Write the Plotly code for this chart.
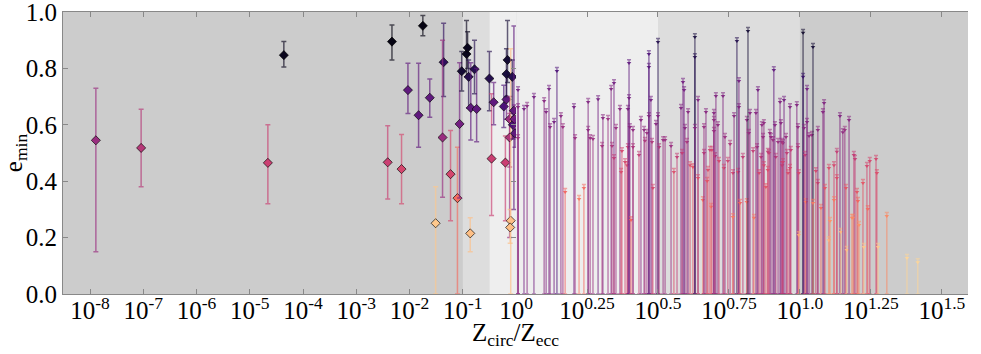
import plotly.graph_objects as go
from plotly.colors import sample_colorscale, unlabel_rgb

# left panel (Z_circ/Z_ecc < 1): log10 ratio, e_min, upper/lower limits, colour value
l_logz = [-7.89, -7.04, -4.66, -4.36, -2.33, -1.75, -2.03, -1.83, -1.62, -2.41, -2.15, -1.51,
          -1.36, -1.38, -1.23, -1.10, -1.06, -1.02, -0.93, -0.91, -0.89, -0.85, -0.86, -0.78,
          -0.74, -0.50, -0.46, -0.42, -0.23, -0.20, -0.18, -0.18, -0.16, -0.12, -0.12, -0.10,
          -0.11, -0.07, -0.06, -0.04, -0.03, -0.02]
l_e = [0.545, 0.518, 0.465, 0.847, 0.895, 0.951, 0.723, 0.634, 0.696, 0.467, 0.443, 0.251,
       0.822, 0.555, 0.425, 0.34, 0.603, 0.79, 0.851, 0.873, 0.77, 0.66, 0.215, 0.797,
       0.656, 0.764, 0.48, 0.68, 0.665, 0.466, 0.69, 0.78, 0.83, 0.62, 0.555, 0.26,
       0.236, 0.77, 0.60, 0.65, 0.62, 0.57]
l_hi = [0.73, 0.655, 0.60, 0.895, 0.954, 0.988, 0.818, 0.818, 0.762, 0.597, 0.566, 0.38,
        0.96, 0.90, 0.58, 0.52, 0.82, 0.86, 0.97, 0.93, 0.83, 0.82, 0.27, 0.90,
        0.80, 0.86, 0.71, 0.75, 0.74, 0.56, 0.78, 0.87, 0.97, 0.70, 0.64, 0.87,
        0.30, 0.83, 0.64, 0.95, 0.67, 0.62]
l_lo = [0.15, 0.38, 0.32, 0.805, 0.83, 0.916, 0.64, 0.52, 0.627, 0.337, 0.32, 0.0,
        0.70, 0.343, 0.26, 0.0, 0.34, 0.72, 0.77, 0.80, 0.66, 0.546, 0.15, 0.71,
        0.54, 0.65, 0.278, 0.60, 0.59, 0.26, 0.62, 0.70, 0.75, 0.20, 0.45, 0.0,
        0.18, 0.65, 0.55, 0.30, 0.57, 0.52]
l_c = [0.45, 0.52, 0.57, 0.05, 0.03, 0.03, 0.3, 0.3, 0.3, 0.57, 0.6, 0.92,
       0.18, 0.45, 0.6, 0.72, 0.35, 0.1, 0.05, 0.05, 0.15, 0.3, 0.9, 0.15,
       0.3, 0.15, 0.57, 0.3, 0.25, 0.57, 0.3, 0.12, 0.1, 0.45, 0.5, 0.9,
       0.9, 0.15, 0.25, 0.3, 0.35, 0.3]

# right panel (Z_circ/Z_ecc >= 1): lower limits on e_min  (log10 ratio, e_min, colour value)
r_pts = [
    (0.007, 0.723, 0.35), (0.007, 0.663, 0.4), (0.007, 0.553, 0.45), (0.028, 0.656, 0.35),
    (0.039, 0.667, 0.4), (0.063, 0.699, 0.35), (0.099, 0.684, 0.4), (0.106, 0.645, 0.38),
    (0.116, 0.727, 0.35), (0.120, 0.592, 0.4), (0.134, 0.610, 0.35), (0.144, 0.791, 0.25),
    (0.158, 0.631, 0.4), (0.165, 0.592, 0.45), (0.173, 0.362, 0.7), (0.204, 0.663, 0.35),
    (0.208, 0.553, 0.45), (0.222, 0.337, 0.75), (0.239, 0.376, 0.72), (0.254, 0.681, 0.38),
    (0.254, 0.582, 0.42), (0.261, 0.553, 0.45), (0.271, 0.550, 0.45), (0.289, 0.691, 0.35),
    (0.303, 0.525, 0.5), (0.306, 0.624, 0.4), (0.324, 0.621, 0.45), (0.335, 0.727, 0.38),
    (0.338, 0.525, 0.5), (0.345, 0.748, 0.35), (0.345, 0.482, 0.55), (0.352, 0.589, 0.45),
    (0.366, 0.656, 0.4), (0.370, 0.433, 0.62), (0.373, 0.507, 0.6), (0.384, 0.468, 0.6),
    (0.391, 0.457, 0.62), (0.394, 0.656, 0.38), (0.394, 0.521, 0.55), (0.398, 0.819, 0.3),
    (0.398, 0.695, 0.35), (0.401, 0.592, 0.4), (0.405, 0.262, 0.7), (0.412, 0.582, 0.42),
    (0.412, 0.521, 0.5), (0.433, 0.493, 0.55), (0.440, 0.617, 0.4), (0.451, 0.582, 0.42),
    (0.454, 0.543, 0.5), (0.461, 0.571, 0.45), (0.468, 0.805, 0.3), (0.468, 0.851, 0.25),
    (0.468, 0.631, 0.38), (0.475, 0.688, 0.35), (0.479, 0.539, 0.5), (0.482, 0.376, 0.6),
    (0.493, 0.603, 0.4), (0.500, 0.894, 0.15), (0.500, 0.631, 0.38), (0.504, 0.521, 0.5),
    (0.518, 0.546, 0.45), (0.525, 0.546, 0.45), (0.546, 0.525, 0.45), (0.556, 0.433, 0.62),
    (0.567, 0.486, 0.55), (0.581, 0.660, 0.38), (0.588, 0.752, 0.35), (0.592, 0.723, 0.35),
    (0.585, 0.500, 0.55), (0.595, 0.589, 0.4), (0.602, 0.539, 0.5), (0.606, 0.645, 0.4),
    (0.613, 0.457, 0.62), (0.623, 0.450, 0.65), (0.630, 0.911, 0.12), (0.630, 0.840, 0.15),
    (0.630, 0.589, 0.4), (0.641, 0.688, 0.38), (0.641, 0.411, 0.62), (0.658, 0.333, 0.72),
    (0.662, 0.500, 0.55), (0.662, 0.592, 0.45), (0.669, 0.645, 0.4), (0.673, 0.401, 0.65),
    (0.676, 0.440, 0.62), (0.683, 0.511, 0.58), (0.687, 0.309, 0.75), (0.690, 0.511, 0.6),
    (0.697, 0.642, 0.4), (0.697, 0.617, 0.42), (0.697, 0.578, 0.45), (0.701, 0.489, 0.55),
    (0.704, 0.702, 0.38), (0.711, 0.599, 0.42), (0.715, 0.472, 0.6), (0.729, 0.702, 0.38),
    (0.732, 0.447, 0.62), (0.736, 0.557, 0.45), (0.746, 0.472, 0.58), (0.754, 0.532, 0.5),
    (0.764, 0.429, 0.6), (0.768, 0.631, 0.4), (0.764, 0.273, 0.75), (0.778, 0.897, 0.15),
    (0.782, 0.433, 0.62), (0.785, 0.755, 0.35), (0.785, 0.663, 0.38), (0.789, 0.323, 0.7),
    (0.799, 0.486, 0.55), (0.813, 0.617, 0.42), (0.813, 0.326, 0.72), (0.817, 0.933, 0.1),
    (0.820, 0.571, 0.45), (0.824, 0.642, 0.4), (0.835, 0.507, 0.55), (0.838, 0.270, 0.75),
    (0.845, 0.642, 0.4), (0.849, 0.521, 0.5), (0.852, 0.723, 0.35), (0.856, 0.429, 0.6),
    (0.863, 0.486, 0.55), (0.866, 0.599, 0.42), (0.870, 0.557, 0.45), (0.873, 0.606, 0.42),
    (0.873, 0.457, 0.6), (0.880, 0.379, 0.65), (0.887, 0.504, 0.55), (0.894, 0.571, 0.45),
    (0.898, 0.557, 0.42), (0.891, 0.500, 0.55), (0.887, 0.440, 0.62), (0.908, 0.794, 0.3),
    (0.905, 0.546, 0.45), (0.915, 0.486, 0.55), (0.912, 0.599, 0.4), (0.923, 0.539, 0.45),
    (0.930, 0.681, 0.38), (0.933, 0.606, 0.4), (0.937, 0.539, 0.45), (0.937, 0.457, 0.55),
    (0.940, 0.535, 0.5), (0.944, 0.688, 0.35), (0.940, 0.468, 0.58), (0.951, 0.557, 0.45),
    (0.954, 0.500, 0.55), (0.958, 0.429, 0.62), (0.965, 0.663, 0.38), (0.968, 0.511, 0.55),
    (0.965, 0.447, 0.6), (0.989, 0.670, 0.38), (0.993, 0.592, 0.42), (0.993, 0.521, 0.5),
    (0.996, 0.429, 0.6), (0.996, 0.209, 0.85), (1.011, 0.926, 0.08), (1.011, 0.770, 0.2),
    (1.014, 0.589, 0.4), (1.018, 0.493, 0.55), (1.021, 0.326, 0.75), (1.025, 0.727, 0.35),
    (1.025, 0.610, 0.4), (1.032, 0.560, 0.42), (1.042, 0.564, 0.45), (1.046, 0.876, 0.1),
    (1.046, 0.323, 0.75), (1.056, 0.436, 0.6), (1.063, 0.394, 0.62), (1.063, 0.582, 0.42),
    (1.074, 0.305, 0.72), (1.081, 0.645, 0.4), (1.085, 0.677, 0.38), (1.088, 0.376, 0.65),
    (1.102, 0.447, 0.62), (1.102, 0.191, 0.88), (1.106, 0.259, 0.8), (1.120, 0.457, 0.6),
    (1.120, 0.333, 0.75), (1.130, 0.504, 0.55), (1.130, 0.411, 0.62), (1.141, 0.631, 0.38),
    (1.144, 0.220, 0.88), (1.151, 0.574, 0.42), (1.158, 0.582, 0.45), (1.162, 0.376, 0.65),
    (1.165, 0.156, 0.9), (1.173, 0.617, 0.4), (1.183, 0.270, 0.78), (1.190, 0.493, 0.55),
    (1.194, 0.479, 0.55), (1.201, 0.362, 0.65), (1.204, 0.330, 0.7), (1.187, 0.270, 0.78),
    (1.208, 0.245, 0.8), (1.222, 0.394, 0.65), (1.225, 0.167, 0.92), (1.236, 0.454, 0.6),
    (1.239, 0.301, 0.72), (1.246, 0.472, 0.6), (1.268, 0.479, 0.6), (1.271, 0.429, 0.62),
    (1.275, 0.167, 0.92), (1.306, 0.277, 0.78), (1.377, 0.128, 0.95), (1.415, 0.113, 0.95),
]
r_up = 0.012

# shaded bands in log10(Z_circ/Z_ecc)
bands = [(-9, -1, "#cccccc"), (-1, -0.5, "#dddddd"), (-0.5, 0, "#eeeeee"),
         (0, 0.5, "#eeeeee"), (0.5, 1.0, "#dddddd"), (1.0, 2, "#cccccc")]

left_ticks = [-8, -7, -6, -5, -4, -3, -2, -1]
right_ticks = [0, 0.25, 0.5, 0.75, 1.0, 1.25, 1.5]
right_labels = ["0", "0.25", "0.5", "0.75", "1.0", "1.25", "1.5"]
cmax = 1.04  # upper end of the colour normalisation


def col(c, a=1.0):
    r, g, b = unlabel_rgb(sample_colorscale("Magma", [min(c / cmax, 1)])[0])
    return f"rgba({int(r)},{int(g)},{int(b)},{a})"


fig = go.Figure()

# background bands as filled polygons
for x0, x1, fc in bands:
    xa = "x" if x1 <= 0 else "x2"
    fig.add_trace(go.Scatter(
        x=[10 ** x0, 10 ** x1, 10 ** x1, 10 ** x0], y=[0, 0, 1, 1], xaxis=xa, yaxis="y",
        fill="toself", fillcolor=fc, mode="none", hoverinfo="skip", showlegend=False))

for lz, e, hi, lo, c in zip(l_logz, l_e, l_hi, l_lo, l_c):
    fig.add_trace(go.Scatter(
        x=[10 ** lz], y=[e], mode="markers", xaxis="x", yaxis="y",
        marker=dict(symbol="diamond", size=7, color=col(c),
                    line=dict(color="rgba(0,0,0,0.8)", width=0.8)),
        error_y=dict(type="data", symmetric=False, array=[hi - e], arrayminus=[e - lo],
                     color=col(c, 0.65), thickness=1.5, width=2.5),
        showlegend=False))

for lz, e, c in r_pts:
    fig.add_trace(go.Scatter(
        x=[10 ** lz], y=[e], mode="markers", xaxis="x2", yaxis="y",
        marker=dict(symbol="triangle-down", size=4, color=col(c, 0.9)),
        error_y=dict(type="data", symmetric=False, array=[r_up], arrayminus=[e],
                     color=col(c, 0.55), thickness=1.5, width=2),
        showlegend=False))

shapes = [dict(type="rect", xref="x2", yref="paper", x0=-0.004, x1=0.006, y0=0, y1=1,
               fillcolor="rgba(0,0,0,0)", line=dict(color="#888888", width=1))]

split = 0.5006
font = dict(family="Liberation Serif", size=25, color="black")
axis_common = dict(showgrid=False, zeroline=False, showline=True, linecolor="#888888",
                   linewidth=1, ticks="inside", ticklen=5, tickcolor="#888888",
                   mirror="ticks", tickfont=font, automargin=False,
                   ticklabeloverflow="allow")

fig.update_layout(
    width=981, height=354,
    margin=dict(l=63, r=13, t=12, b=60, autoexpand=False),
    font=font,
    paper_bgcolor="white", plot_bgcolor="#cccccc",
    shapes=shapes,
    xaxis=dict(type="log", domain=[0, split], range=[-8.507, 0], anchor="y",
               tickvals=[10 ** t for t in left_ticks], ticklabelstandoff=-6,
               ticktext=[f"10<sup>{t}</sup>" for t in left_ticks], **axis_common),
    xaxis2=dict(type="log", domain=[split, 1], range=[0, 1.592], anchor="y",
                tickvals=[10 ** t for t in right_ticks], ticklabelstandoff=-6,
                ticktext=[f"10<sup>{s}</sup>" for s in right_labels], **axis_common),
    yaxis=dict(range=[0, 1], tickvals=[0, 0.2, 0.4, 0.6, 0.8, 1.0], tickformat=".1f",
               anchor="x", title=dict(text="e<sub>min</sub>", font=font, standoff=4),
               **axis_common),
    yaxis2=dict(range=[0, 1], overlaying="y", anchor="x2", side="right",
                tickvals=[0, 0.2, 0.4, 0.6, 0.8, 1.0], showticklabels=False,
                showgrid=False, zeroline=False, showline=True, linecolor="#888888",
                ticks="inside", ticklen=5, tickcolor="#888888"),
    annotations=[dict(text="Z<sub>circ</sub>/Z<sub>ecc</sub>", xref="paper", yref="paper",
                      x=0.5, y=-0.145, xanchor="center", yanchor="middle",
                      showarrow=False, font=font)],
)

# drop the default 8px page margin so the figure fills the window exactly
fig.write_html("out.html", config={"displayModeBar": False},
               post_script="document.body.style.margin = '0';")
